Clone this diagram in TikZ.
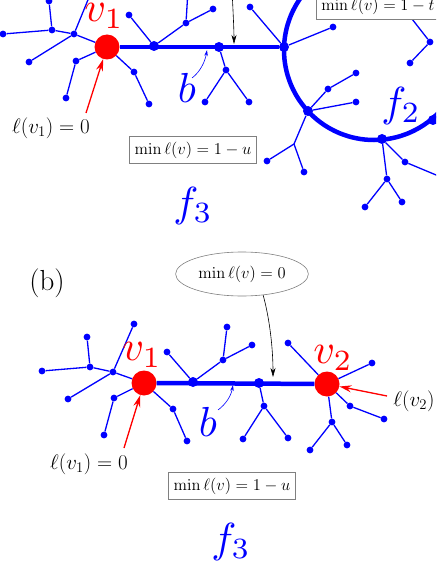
\RequirePackage{fix-cm}
\documentclass[tikz,border=0pt]{standalone}
\usepackage{amsmath,amssymb}
\usepackage{tikz}
\usetikzlibrary{arrows.meta}
\usetikzlibrary{positioning}
\usetikzlibrary{shapes.geometric}

% big face/vertex names, cm math at 10pt blown up
\newcommand{\facename}[1]{\scalebox{4.2}{$#1$}}

\tikzset{
	leaf/.style={circle, fill=blue, inner sep=0pt, minimum size=6.8pt},
	joint/.style={circle, fill=blue, inner sep=0pt, minimum size=10pt},
	root/.style={circle, fill=red, inner sep=0pt, minimum size=25pt},
	twig/.style={blue, line width=1.3pt},
	trunk/.style={blue, line width=4.5pt},
	bigname/.style={inner sep=0pt},
	levlabel/.style={inner sep=0pt, font=\fontsize{21}{24}\selectfont},
	levbox/.style={draw=gray, fill=white, line width=0.6pt, inner sep=5pt, font=\fontsize{16.5}{18}\selectfont},
	redarrow/.style={red, line width=1.3pt, -{Stealth[length=12pt, width=7pt]}},
	blackarrow/.style={black, line width=0.6pt, -{Stealth[length=9pt, width=5pt]}},
	bluearrow/.style={blue, line width=0.6pt, -{Stealth[length=6pt, width=3.5pt]}},
}

\begin{document}
\begin{tikzpicture}[x=1pt, y=-1pt]
		\useasboundingbox (0,0) rectangle (436,564);
		\clip (0,0) rectangle (436,564);
		
		% (a): the upper picture, cut off at the page edge
		\draw[trunk] (374,50) circle[radius=90pt];
		
		\node[root] (a1) at (107,47) {};
		\node[joint] (a2) at (154,46) {};
		\node[joint] (a3) at (219,47) {};
		\node[joint] (a4) at (284,47) {};
		\node[joint] (a5) at (308,111) {};
		\node[joint] (a6) at (382,139) {};
		\node[joint] (a7) at (433,120) {};
		\foreach \n/\x/\y in {a8/74/34, a9/52/30, a10/3/34, a11/49/1, a12/29/62,
			a13/76/61, a14/66/98, a15/134/72, a16/149/104, a17/129/15, a18/186/23,
			a19/213/9, a20/226/70, a21/205/102, a22/249/102, a23/250/7, a24/333/27,
			a25/328/89, a26/356/73, a27/356/102, a29/267/161, a30/304/172,
			a31/387/179, a32/365/207, a33/402/202, a34/405/162, a35/430/42, a36/410/63}
			\node[leaf] (\n) at (\x,\y) {};
		\coordinate (a28) at (294,144);
		% branches that run off the page
		\coordinate (o1) at (92,-10);
		\coordinate (o2) at (188,-10);
		\coordinate (o3) at (460,185);
		\coordinate (o4) at (405,10);
		
		\draw[trunk] (a1) -- (a4);
		\foreach \s/\t in {a1/a8, a8/a9, a9/a10, a9/a11, a8/a12, a8/o1, a1/a13, a13/a14,
			a1/a15, a15/a16, a2/a17, a2/a18, a18/a19, a18/o2, a3/a20, a20/a21, a20/a22,
			a4/a23, a4/a24, a5/a25, a25/a26, a5/a27, a5/a28, a28/a29, a28/a30,
			a6/a31, a31/a32, a31/a33, a6/a34, a34/o3, a35/a36, a35/o4}
			\draw[twig] (\s) -- (\t);
		
		\node[red, bigname] (va1) at (104,16) {\facename{v_1}};
		\node[blue, bigname] (ba) at (187,88) {\facename{b}};
		\node[blue, bigname] (f2) at (401,106) {\facename{f_2}};
		\node[blue, bigname] (f3a) at (193,206) {\facename{f_3}};
		\node[levbox] (ua) at (193,150) {$\min\ell(v)=1-u$};
		\node[levbox, anchor=west] (ta) at (316,6) {$\min\ell(v)=1-t$};
		\node[levlabel] (la) at (51,128) {$\ell(v_1)=0$};
		
		\coordinate (la1) at (86,113);
		\draw[redarrow] (la1) -- (a1);
		\coordinate (ba1) at (192,78);
		\coordinate (ba2) at (207,50);
		\draw[bluearrow] (ba1) .. controls (200,72) and (205,62) .. (ba2);
		\coordinate (ka1) at (232,-10);
		\coordinate (ka2) at (234,44);
		\draw[blackarrow] (ka1) .. controls (233,10) and (234,30) .. (ka2);
		
		% (b): the lower picture
		\node[font=\fontsize{29}{30}\selectfont] (lb) at (47,283) {(b)};
		\node[draw=gray, ellipse, line width=0.6pt, minimum width=129pt, minimum height=44pt,
			font=\fontsize{16.5}{18}\selectfont] (zb) at (242,274) {$\min\ell(v)=0$};
		
		\node[root] (b1) at (144,383) {};
		\node[joint] (b2) at (193,382) {};
		\node[joint] (b3) at (259,383) {};
		\node[root] (b4) at (327,384) {};
		\foreach \n/\x/\y in {b5/113/372, b6/90/367, b7/42/371, b8/87/337, b9/134/324,
			b10/68/399, b11/114/398, b12/104/435, b13/173/409, b14/187/441,
			b15/167/352, b16/223/360, b17/227/327, b18/252/345, b19/264/406,
			b20/243/439, b21/288/438, b22/288/343, b23/372/363, b24/350/406,
			b25/384/419, b26/332/422, b27/310/450, b28/347/445}
			\node[leaf] (\n) at (\x,\y) {};
		
		\draw[trunk] (b1) -- (b4);
		\foreach \s/\t in {b1/b5, b5/b6, b6/b7, b6/b8, b5/b9, b5/b10, b1/b11, b11/b12,
			b1/b13, b13/b14, b2/b15, b2/b16, b16/b17, b16/b18, b3/b19, b19/b20, b19/b21,
			b4/b22, b4/b23, b4/b24, b24/b25, b4/b26, b26/b27, b26/b28}
			\draw[twig] (\s) -- (\t);
		
		\node[red, bigname] (vb1) at (142,355) {\facename{v_1}};
		\node[red, bigname] (vb2) at (333,358) {\facename{v_2}};
		\node[blue, bigname] (bb) at (208,422) {\facename{b}};
		\node[blue, bigname] (f3b) at (231,542) {\facename{f_3}};
		\node[levbox] (ub) at (232,486) {$\min\ell(v)=1-u$};
		\node[levlabel] (lb1) at (89,464) {$\ell(v_1)=0$};
		\node[levlabel] (lb2) at (414,401) {$\ell(v_2)$};
		
		\coordinate (lb1a) at (124,448);
		\draw[redarrow] (lb1a) -- (b1);
		\coordinate (lb2a) at (387,396);
		\draw[redarrow] (lb2a) -- (b4);
		\coordinate (bb1) at (218,410);
		\coordinate (bb2) at (233,385);
		\draw[bluearrow] (bb1) .. controls (226,404) and (231,396) .. (bb2);
		\coordinate (kb2) at (273,377);
		\draw[blackarrow] (zb.-45) .. controls (270,320) and (273,350) .. (kb2);
	\end{tikzpicture}
\end{document}
